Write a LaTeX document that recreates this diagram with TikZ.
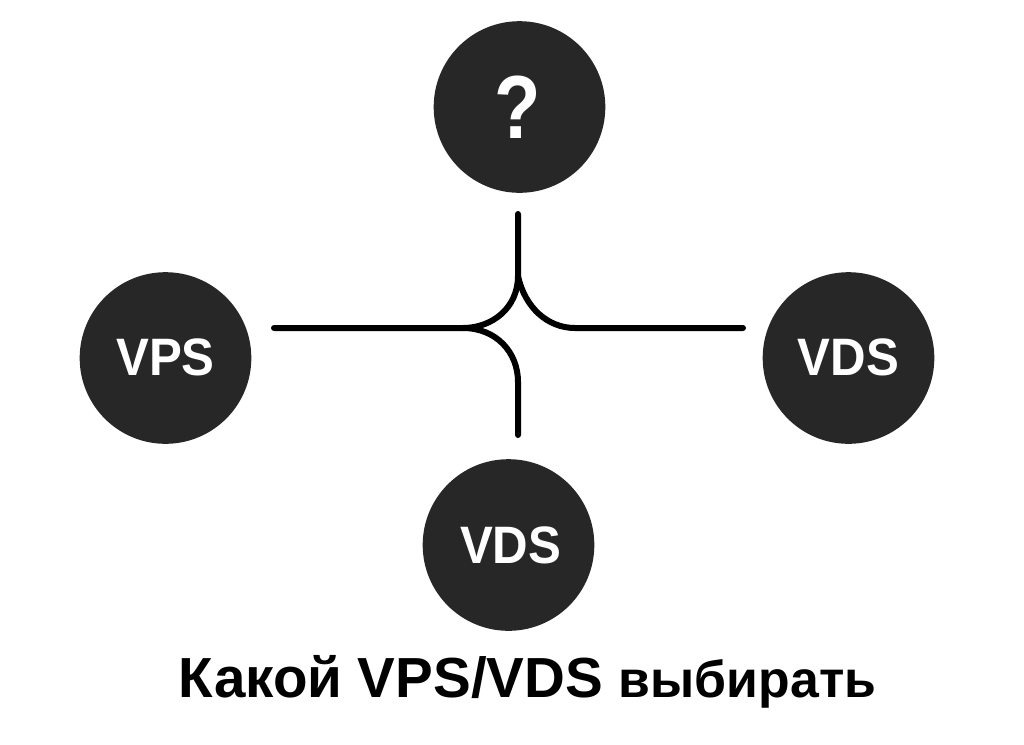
\documentclass[tikz,border=0pt]{standalone}
\usepackage{fontspec}
\setmainfont{Liberation Sans}
\definecolor{disc}{HTML}{272727}
\newcommand{\tall}[1]{\scalebox{1}[1.07]{#1}}
\tikzset{
    bubble/.style={circle, fill=disc, minimum size=4.29cm, inner sep=0pt, text=white, font=\bfseries\fontsize{35}{35}\selectfont},
    wire/.style={line width=1.5mm, line cap=round, black}
}
\begin{document}
\begin{tikzpicture}[x=0.025cm, y=-0.025cm]
    \useasboundingbox (0,0) rectangle (1024,744);
    \node[bubble, font=\bfseries\fontsize{54}{54}\selectfont] (ask) at (519.5,107) {\hspace{-2pt}\scalebox{1}[1.18]{?}};
    \node[bubble] (vps) at (165.5,358) {\raisebox{1pt}{\tall{VPS}}};
    \node[bubble] (vdsr) at (848.5,358) {\raisebox{1pt}{\tall{VDS}}};
    \node[bubble] (vdsb) at (508.5,545) {\hspace{3pt}\tall{VDS}};
    \node[font=\bfseries\fontsize{40.2}{40.2}\selectfont, inner sep=0pt] (title) at (527.5,682) {Какой VPS/VDS \fontsize{36.8}{36.8}\selectfont выбирать};
    \coordinate (west) at (274,328);
    \coordinate (east) at (743,328);
    \coordinate (north) at (518,214);
    \coordinate (south) at (518,435);
    \coordinate (cuspn) at (518,276);
    \coordinate (cuspw) at (463,328);
    \draw[wire] (north) -- (cuspn) .. controls (518,308) and (492,328) .. (cuspw) -- (west);
    \draw[wire] (cuspn) .. controls (525,308) and (548,328) .. (575,328) -- (east);
    \draw[wire] (south) -- (518,382) .. controls (518,352) and (496,328) .. (cuspw);
\end{tikzpicture}
\end{document}
